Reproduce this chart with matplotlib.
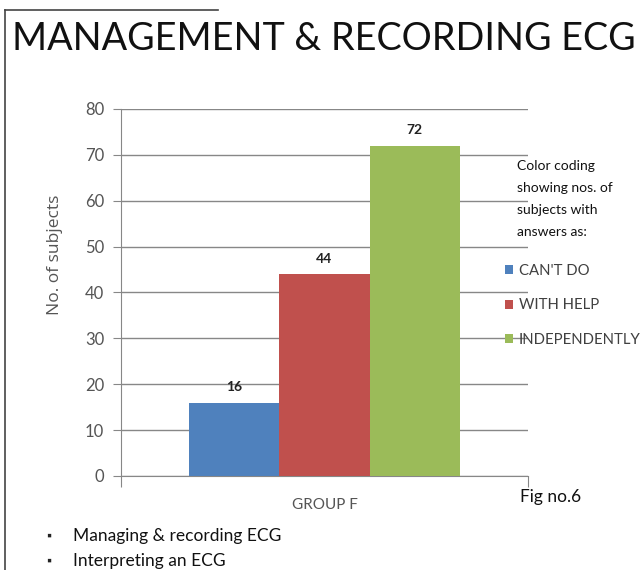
import matplotlib
matplotlib.use("Agg")
import matplotlib.pyplot as plt
from matplotlib.lines import Line2D

# data
group = "GROUP F"
series = ["CAN'T DO", "WITH HELP", "INDEPENDENTLY"]
values = [16, 44, 72]
colors = ["#4F81BD", "#C0504D", "#9BBB59"]
yticks = [0, 10, 20, 30, 40, 50, 60, 70, 80]

plt.rcParams['font.family'] = ['Lato', 'DejaVu Sans']

fig = plt.figure(figsize=(6.4, 5.7), dpi=100)
ax = fig.add_axes([0.189, 0.165, 0.636, 0.644])

w = 0.3
offsets = [-w, 0, w]
for name, v, c, off in zip(series, values, colors, offsets):
    ax.bar(off, v, width=w, color=c, label=name, zorder=3)
    ax.text(off, v + 2, str(v), ha='center', va='bottom', fontsize=10,
            fontweight='bold', color='#222222')

ax.set_xlim(-0.675, 0.675)
ax.set_ylim(0, 80)
ax.set_yticks(yticks)
ax.set_yticklabels([str(t) for t in yticks], fontsize=12, color='#555555')
ax.tick_params(axis='y', length=6, color='#878787', pad=6)
ax.yaxis.grid(True, color='#878787', lw=1, zorder=0)

ax.set_xticks([-0.675, 0.675])
ax.set_xticklabels(['', ''])
ax.tick_params(axis='x', length=8, color='#878787')
ax.set_xticks([0], minor=True)
ax.set_xticklabels([group], minor=True, fontsize=11, color='#555555')
ax.tick_params(axis='x', which='minor', length=0, pad=16)

for s in ['top', 'right']:
    ax.spines[s].set_visible(False)
for s in ['left', 'bottom']:
    ax.spines[s].set_color('#878787')

fig.text(0.086, 0.553, "No. of subjects", rotation=90, ha='center', va='center',
         fontsize=12.5, color='#555555', family=['Open Sans', 'DejaVu Sans'])

# title, sized to span the page width like the reference
title = fig.text(0.019, 0.932, "MANAGEMENT & RECORDING ECG", fontsize=36,
                 color='#111111', ha='left', va='center')
r = fig.canvas.get_renderer()
tw = title.get_window_extent(r).width
title.set_fontsize(36 * 623 / tw)

# legend, with its caption as a separate text
leg = ax.legend(loc='upper left', bbox_to_anchor=(0.78, 0.548),
                bbox_transform=fig.transFigure, borderaxespad=0, frameon=False,
                handlelength=0.55, handleheight=0.55, handletextpad=0.35,
                labelspacing=1.4, fontsize=10.7)
for t in leg.get_texts():
    t.set_color('#404040')
fig.text(0.808, 0.72, "Color coding\nshowing nos. of\nsubjects with\nanswers as:",
         fontsize=10, color='#111111', va='top', ha='left', linespacing=2.0)

fig.text(0.812, 0.128, "Fig no.6", fontsize=12.5, color='#111111', va='center')

fig.text(0.072, 0.060, "\u25aa", fontsize=9, color='#222222', va='center')
fig.text(0.114, 0.060, "Managing & recording ECG", fontsize=12.5, color='#111111', va='center')
fig.text(0.072, 0.016, "\u25aa", fontsize=9, color='#222222', va='center')
fig.text(0.114, 0.016, "Interpreting an ECG", fontsize=12.5, color='#111111', va='center')

# page frame
fig.add_artist(Line2D([0.008, 0.008], [0.0, 0.982], color='#444444', lw=1.2))
fig.add_artist(Line2D([0.008, 0.34], [0.982, 0.982], color='#444444', lw=1.2))

fig.savefig("out.png", dpi=100)
